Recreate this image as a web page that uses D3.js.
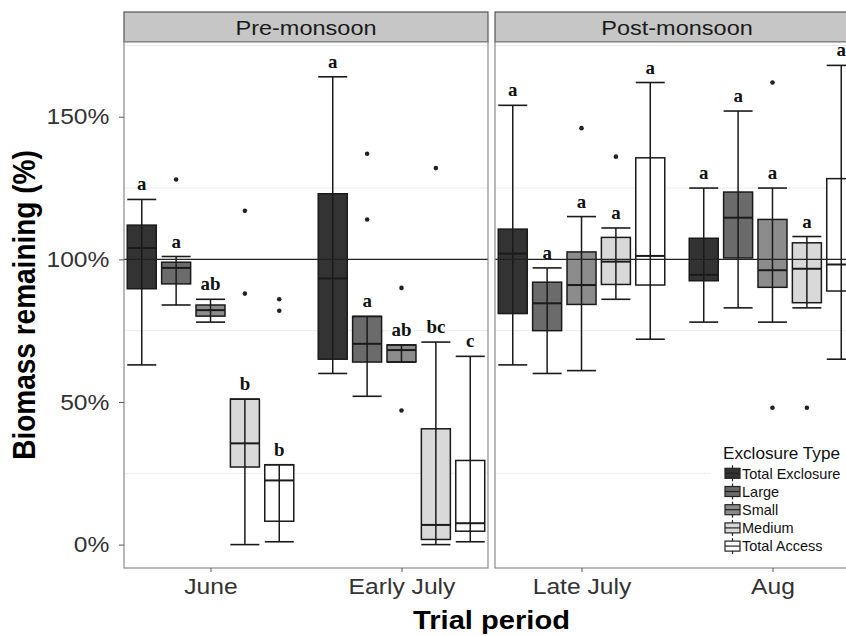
<!DOCTYPE html>
<html>
<head>
<meta charset="utf-8">
<script src="https://cdn.jsdelivr.net/npm/d3@7"></script>
<style>
	body { margin: 0; background: #fff; }
	svg { display: block; font-family: "Liberation Sans", Arial, sans-serif; }
</style>
</head>
<body>
<svg id="chart" width="846" height="636"></svg>
<script>
// boxplot of biomass remaining per trial period and exclosure type

var seasons = ["Pre-monsoon", "Post-monsoon"];
var periodsBySeason = [["June", "Early July"], ["Late July", "Aug"]];
var types = ["Total Exclosure", "Large", "Small", "Medium", "Total Access"];
var typeFill = ["#333333", "#6b6b6b", "#8c8c8c", "#d9d9d9", "#ffffff"];

// one row per period, one value per type (in %)
var upperWhisker = [
	[121, 101, 86, 51, 28],
	[164, 80, 70, 71, 66],
	[154, 97, 115, 111, 162],
	[125, 152, 125, 108, 168]
];
var q3 = [
	[112, 99, 84, 51, 28],
	[123, 80, 70, 40.6, 29.5],
	[110.6, 92, 102.6, 107.7, 135.6],
	[107.4, 123.6, 114, 105.8, 128.3]
];
var medians = [
	[104, 97, 82.2, 35.5, 22.5],
	[93.3, 70.4, 68.2, 6.9, 7.5],
	[102, 84.6, 91, 99.2, 101.2],
	[94.6, 114.6, 96.2, 96.7, 98.2]
];
var q1 = [
	[89.7, 91.4, 80.1, 27.2, 8.2],
	[65, 64, 64, 1.8, 4.7],
	[81, 75, 84.2, 91.2, 91],
	[92.5, 100.5, 90.2, 84.8, 88.9]
];
var lowerWhisker = [
	[63, 84, 78, 0, 1],
	[60, 52, 64, 0, 1],
	[63, 60, 61, 86, 72],
	[78, 83, 78, 83, 65]
];
var outliers = [
	[[], [128], [], [117, 88], [86, 82]],
	[[], [137, 114], [90, 47], [132], []],
	[[], [], [146], [136], []],
	[[], [], [162, 48], [48], []]
];
var letters = [
	["a", "a", "ab", "b", "b"],
	["a", "a", "ab", "bc", "c"],
	["a", "a", "a", "a", "a"],
	["a", "a", "a", "a", "a"]
];
var yTicks = [0, 50, 100, 150];
var yMinor = [25, 75, 125, 175];

var svg = d3.select("#chart");

var panelTop = 42, panelBottom = 568, panelWidth = 364,
	stripTop = 12,
	panelLefts = [124, 495],
	boxWidth = 29,
	stretch = 1.12; // the original figure is a little wider than tall

var y = d3.scaleLinear().domain([-8.2, 176.2]).range([panelBottom, panelTop]);

var dodge = d3.scaleBand().domain(types);

// text that is placed at (x, y) and widened a little
function wideText(parent, x0, y0, k) {
	return parent.append("g")
		.attr("transform", "translate(" + x0 + "," + y0 + ") scale(" + (k || stretch) + ",1)")
		.append("text");
}

var root = svg.append("g");

seasons.forEach(function(season, s) {
	var left = panelLefts[s];
	var x = d3.scalePoint().domain(periodsBySeason[s])
		.range([left, left + panelWidth]).padding(0.453);
	var step = x.step();
	dodge.range([-0.45 * step, 0.45 * step]);

	var g = root.append("g");

	// strip
	g.append("rect")
		.attr("x", left).attr("y", stripTop)
		.attr("width", panelWidth).attr("height", panelTop - stripTop)
		.attr("fill", "#c6c6c6").attr("stroke", "#555").attr("stroke-width", 1.2);
	wideText(g, left + panelWidth / 2, (stripTop + panelTop) / 2)
		.attr("dy", "0.36em").attr("text-anchor", "middle")
		.attr("font-size", 21).attr("fill", "#1a1a1a")
		.text(season);

	// panel
	g.append("rect")
		.attr("x", left).attr("y", panelTop)
		.attr("width", panelWidth).attr("height", panelBottom - panelTop)
		.attr("fill", "#fff");

	g.selectAll(".minor").data(yMinor).enter().append("line")
		.attr("class", "minor")
		.attr("x1", left).attr("x2", left + panelWidth)
		.attr("y1", function(d) { return y(d); })
		.attr("y2", function(d) { return y(d); })
		.attr("stroke", "#ececec").attr("stroke-width", 1);

	periodsBySeason[s].forEach(function(period, pi) {
		var p = s * 2 + pi;
		var cx = x(period);
		var rows = types.map(function(t, i) {
			return {
				type: t, i: i,
				cx: cx + dodge(t) + dodge.bandwidth() / 2,
				lo: lowerWhisker[p][i], q1: q1[p][i], med: medians[p][i],
				q3: q3[p][i], hi: upperWhisker[p][i],
				out: outliers[p][i], letter: letters[p][i]
			};
		});

		var box = g.selectAll(".box-" + p).data(rows).enter().append("g")
			.attr("class", "box-" + p);

		box.append("rect")
			.attr("x", function(d) { return d.cx - boxWidth / 2; })
			.attr("y", function(d) { return y(d.q3); })
			.attr("width", boxWidth)
			.attr("height", function(d) { return y(d.q1) - y(d.q3); })
			.attr("fill", function(d) { return typeFill[d.i]; })
			.attr("stroke", "#1a1a1a").attr("stroke-width", 1.5);

		box.append("line")
			.attr("x1", function(d) { return d.cx; })
			.attr("x2", function(d) { return d.cx; })
			.attr("y1", function(d) { return y(d.lo); })
			.attr("y2", function(d) { return y(d.hi); })
			.attr("stroke", "#1a1a1a").attr("stroke-width", 1.5);

		// caps and median
		["lo", "hi", "med"].forEach(function(k) {
			box.append("line")
				.attr("x1", function(d) { return d.cx - boxWidth / 2; })
				.attr("x2", function(d) { return d.cx + boxWidth / 2; })
				.attr("y1", function(d) { return y(d[k]); })
				.attr("y2", function(d) { return y(d[k]); })
				.attr("stroke", "#1a1a1a").attr("stroke-width", k === "med" ? 2 : 1.6);
		});

		box.selectAll("circle").data(function(d) {
			return d.out.map(function(v) { return {cx: d.cx, v: v}; });
		}).enter().append("circle")
			.attr("cx", function(d) { return d.cx; })
			.attr("cy", function(d) { return y(d.v); })
			.attr("r", 2.3).attr("fill", "#222");

		box.each(function(d) {
			wideText(d3.select(this), d.cx, y(d.hi) - 9, 1.05)
				.attr("text-anchor", "middle")
				.attr("font-family", "'Liberation Serif', 'Times New Roman', serif")
				.attr("font-weight", "bold").attr("font-size", 18)
				.attr("fill", "#111")
				.text(d.letter);
		});
	});

	// reference line at 100%
	g.append("line")
		.attr("x1", left).attr("x2", left + panelWidth)
		.attr("y1", y(100)).attr("y2", y(100))
		.attr("stroke", "#222").attr("stroke-width", 1.2);

	// panel border
	g.append("rect")
		.attr("x", left).attr("y", panelTop)
		.attr("width", panelWidth).attr("height", panelBottom - panelTop)
		.attr("fill", "none").attr("stroke", "#8a8a8a").attr("stroke-width", 1.2);

	// x axis
	var xAxis = g.append("g")
		.attr("transform", "translate(0," + panelBottom + ")")
		.call(d3.axisBottom(x).tickSize(4).tickPadding(6));
	xAxis.select(".domain").remove();
	xAxis.selectAll("line").attr("stroke", "#555");
	xAxis.selectAll("text")
		.attr("transform", "scale(" + stretch + ",1)")
		.attr("font-size", 22).attr("fill", "#333")
		.attr("font-family", "'Liberation Sans', Arial, sans-serif");
});

// y axis on the left panel
var yAxis = root.append("g")
	.attr("transform", "translate(" + panelLefts[0] + ",0)")
	.call(d3.axisLeft(y).tickValues(yTicks).tickSize(5).tickPadding(8)
		.tickFormat(function(d) { return d + "%"; }));
yAxis.select(".domain").remove();
yAxis.selectAll("line").attr("stroke", "#555");
yAxis.selectAll("text")
	.attr("transform", "scale(" + stretch + ",1)")
	.attr("font-size", 22).attr("fill", "#333")
	.attr("font-family", "'Liberation Sans', Arial, sans-serif");

// axis titles
root.append("text")
	.attr("transform", "translate(35," + (panelTop + panelBottom) / 2 + ") rotate(-90) scale(1,1.1)")
	.attr("text-anchor", "middle")
	.attr("font-size", 28).attr("font-weight", "bold").attr("fill", "#000")
	.text("Biomass remaining (%)");

wideText(root, (panelLefts[0] + panelLefts[1] + panelWidth) / 2, 629)
	.attr("text-anchor", "middle")
	.attr("font-size", 26).attr("font-weight", "bold").attr("fill", "#000")
	.text("Trial period");

// legend
var legend = root.append("g").attr("transform", "translate(711,440)");
legend.append("rect")
	.attr("x", 0).attr("y", 0).attr("width", 140).attr("height", 118)
	.attr("fill", "#fff");
wideText(legend, 12, 19, 1.04)
	.attr("font-size", 16.5).attr("fill", "#111")
	.text("Exclosure Type");

var item = legend.selectAll(".item").data(types).enter().append("g")
	.attr("class", "item")
	.attr("transform", function(d, i) { return "translate(14," + (33.3 + i * 18.2) + ")"; });
item.append("line")
	.attr("x1", 7.5).attr("x2", 7.5).attr("y1", -8).attr("y2", 8)
	.attr("stroke", "#222").attr("stroke-width", 1.2);
item.append("rect")
	.attr("x", 0).attr("y", -5).attr("width", 15).attr("height", 10)
	.attr("fill", function(d, i) { return typeFill[i]; })
	.attr("stroke", "#222").attr("stroke-width", 1.2);
item.append("line")
	.attr("x1", 0).attr("x2", 15).attr("y1", 0).attr("y2", 0)
	.attr("stroke", "#222").attr("stroke-width", 1.2);
item.append("text")
	.attr("x", 17).attr("y", 0).attr("dy", "0.36em")
	.attr("font-size", 14.5).attr("fill", "#111")
	.text(function(d) { return d; });
</script>
</body>
</html>
